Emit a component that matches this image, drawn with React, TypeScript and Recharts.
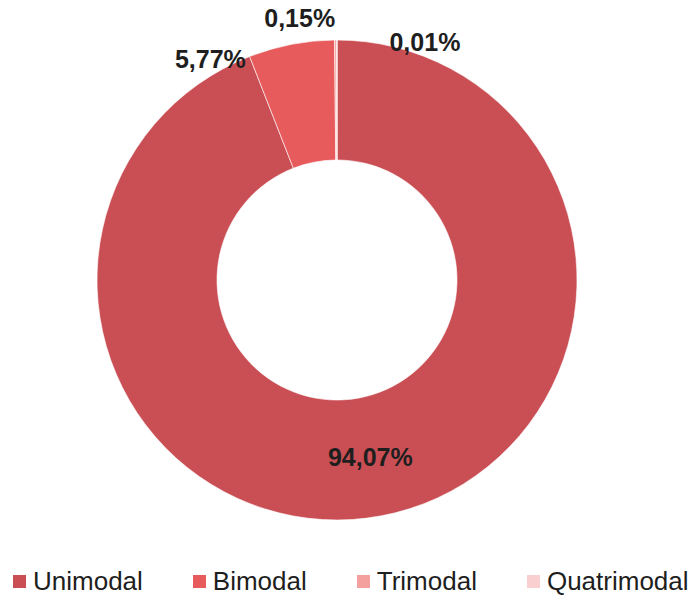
import { PieChart, Pie, Cell, Legend } from 'recharts'

const categories = ['Unimodal', 'Bimodal', 'Trimodal', 'Quatrimodal']
const shares = [94.07, 5.77, 0.15, 0.01]
const labels = ['94,07%', '5,77%', '0,15%', '0,01%']
const colors = ['#CA4F55', '#E85B5C', '#F4A09F', '#F9CFCF']

const data = categories.map((name, i) => ({ name, value: shares[i] }))

// labels were hand placed in the original; small nudges from the slice edge
const labelNudge = [
  { dx: 0, dy: 0 },
  { dx: -81, dy: 15 },
  { dx: -36, dy: -22 },
  { dx: 88, dy: 2 },
]

const RADIAN = Math.PI / 180

function renderLabel(props: any) {
  const { cx, cy, midAngle, innerRadius, outerRadius, index } = props
  const r = index === 0 ? (innerRadius + outerRadius) / 2 : outerRadius
  const x = cx + r * Math.cos(-midAngle * RADIAN) + labelNudge[index].dx
  const y = cy + r * Math.sin(-midAngle * RADIAN) + labelNudge[index].dy
  return (
    <text
      x={x}
      y={y}
      fill="#1e1e1e"
      textAnchor="middle"
      dominantBaseline="central"
      style={{ fontSize: 25, fontWeight: 700, fontFamily: 'Liberation Sans, Arial, sans-serif' }}
    >
      {labels[index]}
    </text>
  )
}

function LegendRow() {
  return (
    <div style={{ display: 'flex', alignItems: 'center', paddingLeft: 13, height: 30 }}>
      {categories.map((c, i) => (
        <div key={c} style={{ display: 'flex', alignItems: 'center', marginRight: i < 3 ? 50 : 0 }}>
          <span style={{ width: 13, height: 13, background: colors[i], display: 'inline-block', marginRight: 7 }} />
          <span
            style={{
              fontSize: 26,
              color: '#1e1e1e',
              fontFamily: 'Liberation Sans, Arial, sans-serif',
              lineHeight: '30px',
              whiteSpace: 'nowrap',
            }}
          >
            {c}
          </span>
        </div>
      ))}
    </div>
  )
}

export default function App() {
  return (
    <div style={{ position: 'absolute', left: 0, top: 0, width: 700, height: 596, background: '#fff' }}>
      <PieChart width={700} height={596} margin={{ top: 0, right: 0, bottom: 0, left: 0 }}>
        <Pie
          data={data}
          dataKey="value"
          nameKey="name"
          cx={337}
          cy={280}
          innerRadius={120}
          outerRadius={240}
          startAngle={90}
          endAngle={-270}
          stroke="#ffffff"
          strokeWidth={0.6}
          label={renderLabel}
          labelLine={false}
          isAnimationActive={false}
        >
          {data.map((d, i) => (
            <Cell key={d.name} fill={colors[i]} />
          ))}
        </Pie>
        <Legend
          content={() => <LegendRow />}
          wrapperStyle={{ position: 'absolute', left: 0, top: 566, width: 700, height: 30 }}
        />
      </PieChart>
    </div>
  )
}
